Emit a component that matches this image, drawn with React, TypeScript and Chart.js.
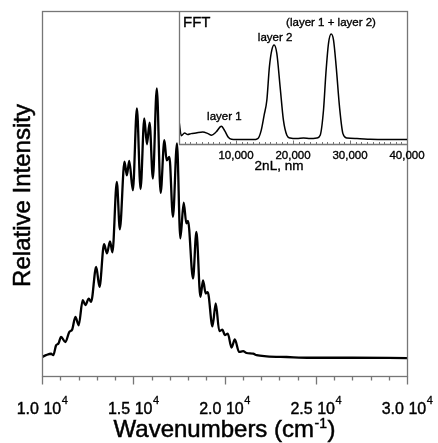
import React, { useEffect, useRef } from "react";
import { Chart, registerables } from "chart.js";

Chart.register(...registerables);

const FONT = '"Liberation Sans", Arial, Helvetica, sans-serif';
const FRAME = "#767676";

// Main spectrum: wavenumber (cm-1) vs relative intensity
const mainWavenumber = [
  10000, 10220, 10495, 10620, 10770, 10900, 11045, 11280, 11500, 11650,
  11830, 12010, 12230, 12380, 12560, 12690, 12970, 13150, 13400, 13560,
  13725, 13860, 14100, 14265, 14520, 14650, 14780, 14980, 15200, 15400,
  15605, 15750, 15895, 16075, 16290, 16500, 16705, 16830, 16980, 17175,
  17395, 17580, 17765, 17910, 18000, 18275, 18460, 18680, 18825, 18970,
  19080, 19340, 19520, 19715, 19890, 20015, 20180, 20385, 20565, 20800,
  21020, 21210, 21570, 21760, 22310, 23405, 24690, 27000, 30000,
];
const mainIntensity = [
  0.052, 0.057, 0.061, 0.057, 0.084, 0.089, 0.107, 0.093, 0.121, 0.127,
  0.162, 0.139, 0.208, 0.194, 0.212, 0.203, 0.299, 0.244, 0.361, 0.336,
  0.369, 0.339, 0.532, 0.402, 0.587, 0.550, 0.589, 0.509, 0.733, 0.512,
  0.706, 0.635, 0.694, 0.541, 0.788, 0.502, 0.646, 0.591, 0.600, 0.436,
  0.637, 0.377, 0.475, 0.418, 0.425, 0.267, 0.395, 0.217, 0.262, 0.226,
  0.230, 0.136, 0.199, 0.123, 0.127, 0.112, 0.116, 0.078, 0.100, 0.066,
  0.068, 0.063, 0.061, 0.057, 0.054, 0.052, 0.050, 0.050, 0.049,
];
const mainMajorTicks = [10000, 15000, 20000, 25000, 30000];
const mainTickMantissa = ["1.0", "1.5", "2.0", "2.5", "3.0"];
const mainMinorStep = 1000;

// Inset FFT: 2nL (nm) vs amplitude
const fftPath = [
  50, 400, 970, 1530, 2110, 2990, 4160, 5090, 5710, 6500,
  7430, 8030, 8610, 9220, 10010, 11420, 12950, 13830, 14400, 14930,
  15410, 15860, 16280, 16690, 17160, 17740, 18320, 18920, 19500, 20680,
  21840, 23010, 24190, 24770, 25350, 25770, 26230, 26700, 27110, 27580,
  28160, 28760, 29460, 31220, 33550, 36490, 40000,
];
const fftAmp = [
  0.158, 0.062, 0.083, 0.071, 0.078, 0.083, 0.090, 0.078, 0.066, 0.090,
  0.133, 0.099, 0.053, 0.035, 0.033, 0.033, 0.033, 0.041, 0.099, 0.216,
  0.329, 0.580, 0.706, 0.744, 0.681, 0.430, 0.179, 0.066, 0.045, 0.041,
  0.045, 0.041, 0.045, 0.066, 0.254, 0.531, 0.757, 0.827, 0.781, 0.580,
  0.279, 0.078, 0.045, 0.041, 0.035, 0.033, 0.033,
];
const fftMajorTicks = [10000, 20000, 30000, 40000];
const fftTickLabels = ["10,000", "20,000", "30,000", "40,000"];
const fftMinorStep = 1000;
const fftNoteText = ["layer 1", "layer 2", "(layer 1 + layer 2)"];
const fftNoteX = [7960, 16860, 26670];
const fftNoteY = [0.184, 0.778, 0.887];

function txt(ctx: CanvasRenderingContext2D, s: string, x: number, y: number, w = 0.4) {
  ctx.fillText(s, x, y);
  ctx.lineWidth = w;
  ctx.strokeStyle = "#000";
  ctx.strokeText(s, x, y);
}

const mainDecor = {
  id: "mainDecor",
  afterDraw(chart: any) {
    const ctx = chart.ctx;
    const a = chart.chartArea;
    const xs = chart.scales.x;
    ctx.save();
    ctx.strokeStyle = FRAME;
    ctx.lineWidth = 1.3;
    ctx.strokeRect(a.left + 0.5, a.top + 0.5, a.right - a.left, a.bottom - a.top);
    ctx.beginPath();
    for (let v = xs.min; v <= xs.max + 1; v += mainMinorStep) {
      const px = Math.round(xs.getPixelForValue(v)) + 0.5;
      const major = mainMajorTicks.includes(v);
      ctx.moveTo(px, a.bottom + 0.5);
      ctx.lineTo(px, a.bottom + 0.5 + (major ? 8 : 4));
    }
    ctx.stroke();

    ctx.fillStyle = "#000";
    ctx.textAlign = "left";
    ctx.textBaseline = "alphabetic";
    mainMajorTicks.forEach((v, i) => {
      const px = xs.getPixelForValue(v);
      const base = mainTickMantissa[i] + " 10";
      ctx.font = `16px ${FONT}`;
      const w1 = ctx.measureText(base).width;
      ctx.font = `11px ${FONT}`;
      const w2 = ctx.measureText("4").width;
      const x0 = px - (w1 + w2) / 2;
      ctx.font = `16px ${FONT}`;
      txt(ctx, base, x0, a.bottom + 37.5);
      ctx.font = `11px ${FONT}`;
      txt(ctx, "4", x0 + w1 + 0.5, a.bottom + 27.5, 0.3);
    });

    // x title
    const t1 = "Wavenumbers (cm";
    const t2 = "-1";
    const t3 = ")";
    ctx.font = `24px ${FONT}`;
    const wa = ctx.measureText(t1).width;
    const wc = ctx.measureText(t3).width;
    ctx.font = `14px ${FONT}`;
    const wb = ctx.measureText(t2).width;
    const cx = (a.left + a.right) / 2;
    const x = cx - (wa + wb + wc + 1) / 2;
    ctx.font = `24px ${FONT}`;
    txt(ctx, t1, x, a.bottom + 61, 0.5);
    ctx.font = `14px ${FONT}`;
    txt(ctx, t2, x + wa + 0.5, a.bottom + 52);
    ctx.font = `24px ${FONT}`;
    txt(ctx, t3, x + wa + wb + 1, a.bottom + 61, 0.5);

    // y title
    ctx.save();
    ctx.translate(29.5, (a.top + a.bottom) / 2 + 2);
    ctx.rotate(-Math.PI / 2);
    ctx.textAlign = "center";
    ctx.font = `24px ${FONT}`;
    txt(ctx, "Relative Intensity", 0, 0, 0.5);
    ctx.restore();
    ctx.restore();
  },
};

const insetDecor = {
  id: "insetDecor",
  afterDraw(chart: any) {
    const ctx = chart.ctx;
    const a = chart.chartArea;
    const xs = chart.scales.x;
    const ys = chart.scales.y;
    ctx.save();
    ctx.strokeStyle = FRAME;
    ctx.lineWidth = 1.3;
    ctx.beginPath();
    ctx.moveTo(a.left + 0.5, a.top);
    ctx.lineTo(a.left + 0.5, a.bottom + 0.5);
    ctx.lineTo(a.right + 0.5, a.bottom + 0.5);
    ctx.stroke();
    ctx.lineWidth = 1;
    ctx.beginPath();
    for (let v = xs.min + fftMinorStep; v <= xs.max - 1; v += fftMinorStep) {
      const px = Math.round(xs.getPixelForValue(v)) + 0.5;
      const major = fftMajorTicks.includes(v);
      ctx.moveTo(px, a.bottom);
      ctx.lineTo(px, a.bottom - (major ? 3.5 : 2));
    }
    ctx.stroke();

    ctx.fillStyle = "#000";
    ctx.textAlign = "center";
    ctx.textBaseline = "alphabetic";
    ctx.font = `11.5px ${FONT}`;
    fftMajorTicks.forEach((v, i) => {
      txt(ctx, fftTickLabels[i], xs.getPixelForValue(v), a.bottom + 14.8, 0.35);
    });
    ctx.font = `13.5px ${FONT}`;
    txt(ctx, "2nL, nm", a.left + 100, a.bottom + 25.5, 0.35);

    ctx.font = `11.5px ${FONT}`;
    fftNoteText.forEach((t, i) => {
      txt(ctx, t, xs.getPixelForValue(fftNoteX[i]), ys.getPixelForValue(fftNoteY[i]), 0.35);
    });
    ctx.textAlign = "left";
    ctx.font = `15px ${FONT}`;
    txt(ctx, "FFT", a.left + 4, a.top + 16, 0.35);
    ctx.restore();
  },
};

export default function App() {
  const mainRef = useRef<HTMLCanvasElement>(null);
  const insetRef = useRef<HTMLCanvasElement>(null);

  useEffect(() => {
    const main = new Chart(mainRef.current as HTMLCanvasElement, {
      type: "line",
      data: {
        datasets: [
          {
            data: mainWavenumber.map((x, i) => ({ x, y: mainIntensity[i] })),
            borderColor: "#000",
            borderWidth: 2.3,
            pointRadius: 0,
            cubicInterpolationMode: "monotone",
            fill: false,
          },
        ],
      },
      options: {
        responsive: false,
        animation: false,
        devicePixelRatio: 1,
        layout: { padding: { left: 42, right: 31, top: 11, bottom: 67 } },
        plugins: { legend: { display: false }, tooltip: { enabled: false } },
        events: [],
        scales: {
          x: { type: "linear", min: 10000, max: 30000, display: false },
          y: { type: "linear", min: 0, max: 1, display: false },
        },
      },
      plugins: [mainDecor],
    } as any);

    const inset = new Chart(insetRef.current as HTMLCanvasElement, {
      type: "line",
      data: {
        datasets: [
          {
            data: fftPath.map((x, i) => ({ x, y: fftAmp[i] })),
            borderColor: "#000",
            borderWidth: 1.5,
            pointRadius: 0,
            cubicInterpolationMode: "monotone",
            fill: false,
          },
        ],
      },
      options: {
        responsive: false,
        animation: false,
        devicePixelRatio: 1,
        layout: { padding: { left: 29, right: 31, top: 11, bottom: 36 } },
        plugins: { legend: { display: false }, tooltip: { enabled: false } },
        events: [],
        scales: {
          x: { type: "linear", min: 0, max: 40000, display: false },
          y: { type: "linear", min: 0, max: 1, display: false },
        },
      },
      plugins: [insetDecor],
    } as any);

    return () => {
      main.destroy();
      inset.destroy();
    };
  }, []);

  return (
    <div style={{ position: "absolute", left: 0, top: 0, width: 438, height: 443, background: "#fff" }}>
      <canvas
        ref={mainRef}
        width={438}
        height={443}
        style={{ position: "absolute", left: 0, top: 0, width: 438, height: 443 }}
      />
      <canvas
        ref={insetRef}
        width={288}
        height={180}
        style={{ position: "absolute", left: 150, top: 0, width: 288, height: 180 }}
      />
    </div>
  );
}
